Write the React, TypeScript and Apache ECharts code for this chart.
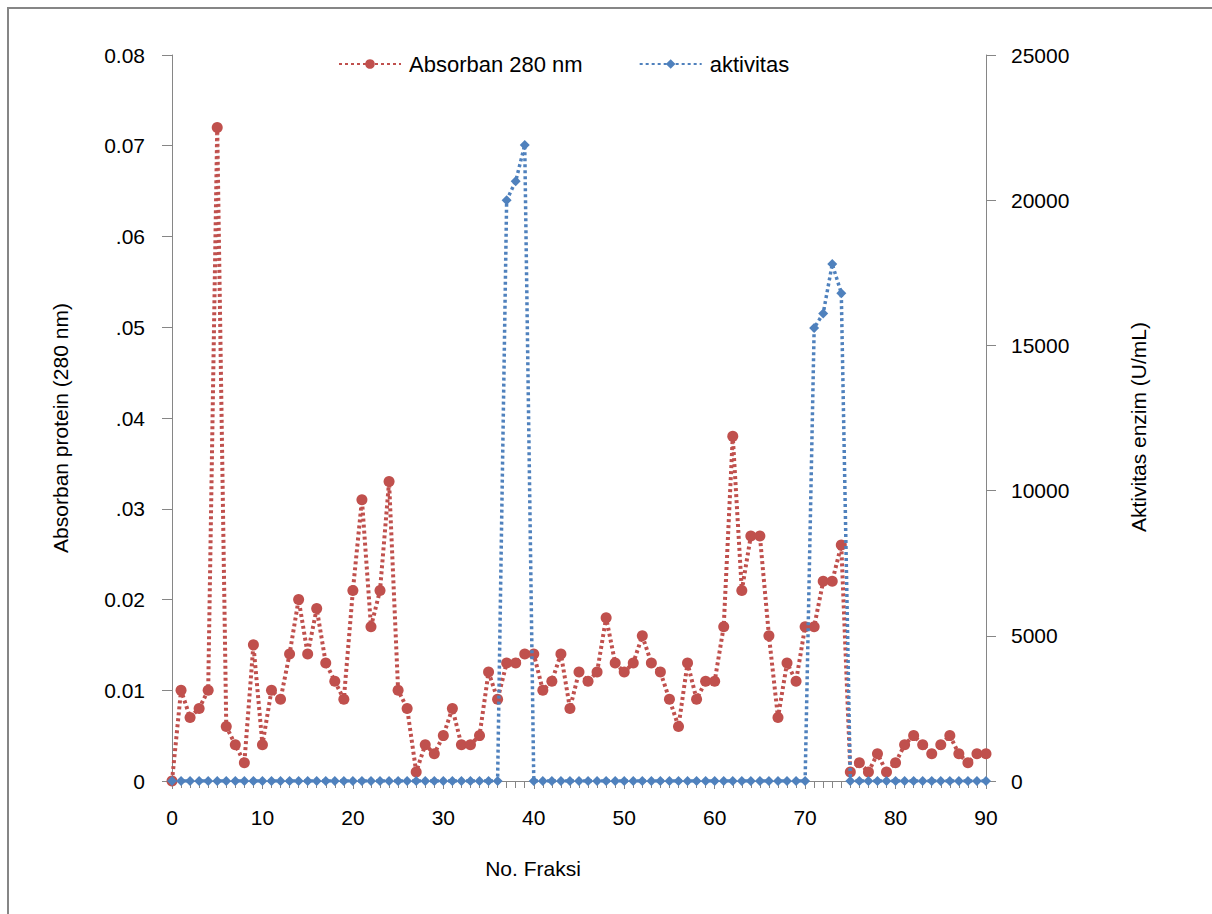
import React, { useEffect, useRef } from "react";
import * as echarts from "echarts";

const fractions = [
  0, 1, 2, 3, 4, 5, 6, 7, 8, 9,
  10, 11, 12, 13, 14, 15, 16, 17, 18, 19,
  20, 21, 22, 23, 24, 25, 26, 27, 28, 29,
  30, 31, 32, 33, 34, 35, 36, 37, 38, 39,
  40, 41, 42, 43, 44, 45, 46, 47, 48, 49,
  50, 51, 52, 53, 54, 55, 56, 57, 58, 59,
  60, 61, 62, 63, 64, 65, 66, 67, 68, 69,
  70, 71, 72, 73, 74, 75, 76, 77, 78, 79,
  80, 81, 82, 83, 84, 85, 86, 87, 88, 89,
  90,
];

const absorbance = [
  0, 0.010, 0.007, 0.008, 0.010, 0.072, 0.006, 0.004, 0.002, 0.015,
  0.004, 0.010, 0.009, 0.014, 0.020, 0.014, 0.019, 0.013, 0.011, 0.009,
  0.021, 0.031, 0.017, 0.021, 0.033, 0.010, 0.008, 0.001, 0.004, 0.003,
  0.005, 0.008, 0.004, 0.004, 0.005, 0.012, 0.009, 0.013, 0.013, 0.014,
  0.014, 0.010, 0.011, 0.014, 0.008, 0.012, 0.011, 0.012, 0.018, 0.013,
  0.012, 0.013, 0.016, 0.013, 0.012, 0.009, 0.006, 0.013, 0.009, 0.011,
  0.011, 0.017, 0.038, 0.021, 0.027, 0.027, 0.016, 0.007, 0.013, 0.011,
  0.017, 0.017, 0.022, 0.022, 0.026, 0.001, 0.002, 0.001, 0.003, 0.001,
  0.002, 0.004, 0.005, 0.004, 0.003, 0.004, 0.005, 0.003, 0.002, 0.003,
  0.003,
];

const activity = [
  0, 0, 0, 0, 0, 0, 0, 0, 0, 0,
  0, 0, 0, 0, 0, 0, 0, 0, 0, 0,
  0, 0, 0, 0, 0, 0, 0, 0, 0, 0,
  0, 0, 0, 0, 0, 0, 0, 20000, 20650, 21900,
  0, 0, 0, 0, 0, 0, 0, 0, 0, 0,
  0, 0, 0, 0, 0, 0, 0, 0, 0, 0,
  0, 0, 0, 0, 0, 0, 0, 0, 0, 0,
  0, 15600, 16100, 17800, 16800, 0, 0, 0, 0, 0,
  0, 0, 0, 0, 0, 0, 0, 0, 0, 0,
  0,
];

const leftTickLabels = ["0", "0.01", "0.02", ".03", ".04", ".05", ".06", "0.07", "0.08"];
const rightTickLabels = ["0", "5000", "10000", "15000", "20000", "25000"];

const seriesNames = ["Absorban 280 nm", "aktivitas"];
const xTitle = "No. Fraksi";
const yLeftTitle = "Absorban protein (280 nm)";
const yRightTitle = "Aktivitas enzim (U/mL)";

const RED = "#C0504D";
const BLUE = "#4F81BD";
const AXIS = "#868686";
const FONT = "'Liberation Sans', Arial, sans-serif";

export default function App() {
  const ref = useRef<HTMLDivElement>(null);

  useEffect(() => {
    document.body.style.margin = "0";
    if (!ref.current) return;
    const chart = echarts.init(ref.current, undefined, { renderer: "svg" });

    const axisCommon = {
      axisLine: { show: true, lineStyle: { color: AXIS, width: 1 } },
      axisTick: { show: true, inside: false, length: 10, lineStyle: { color: AXIS } },
      splitLine: { show: false },
    };

    chart.setOption({
      animation: false,
      backgroundColor: "#ffffff",
      grid: { left: 172, right: 1212 - 986, top: 55, bottom: 914 - 781 },
      legend: {
        data: seriesNames,
        top: 48,
        left: 333,
        itemWidth: 62,
        itemHeight: 12,
        itemGap: 56,
        textStyle: { fontSize: 22, color: "#000", fontFamily: FONT, padding: [0, 0, 0, 3] },
      },
      xAxis: {
        type: "value",
        min: 0,
        max: 90,
        interval: 10,
        ...axisCommon,
        axisTick: { show: true, inside: false, length: 8, lineStyle: { color: AXIS } },
        minorTick: { show: true, splitNumber: 10, length: 7, lineStyle: { color: AXIS, width: 1 } },
        axisLabel: { fontSize: 21, color: "#000", fontFamily: FONT, margin: 26 },
      },
      yAxis: [
        {
          type: "value",
          min: 0,
          max: 0.08,
          interval: 0.01,
          position: "left",
          ...axisCommon,
          axisLabel: {
            fontSize: 21,
            color: "#000",
            fontFamily: FONT,
            margin: 27,
            formatter: (v: number) => leftTickLabels[Math.round(v / 0.01)] ?? "",
          },
        },
        {
          type: "value",
          min: 0,
          max: 25000,
          interval: 5000,
          position: "right",
          ...axisCommon,
          axisLabel: {
            fontSize: 21,
            color: "#000",
            fontFamily: FONT,
            margin: 25,
            formatter: (v: number) => rightTickLabels[Math.round(v / 5000)] ?? "",
          },
        },
      ],
      series: [
        {
          name: seriesNames[0],
          type: "line",
          yAxisIndex: 0,
          data: fractions.map((f, i) => [f, absorbance[i]]),
          symbol: "circle",
          symbolSize: 11,
          itemStyle: { color: RED },
          lineStyle: { color: RED, width: 4, type: [3, 3] },
          z: 2,
        },
        {
          name: seriesNames[1],
          type: "line",
          yAxisIndex: 1,
          data: fractions.map((f, i) => [f, activity[i]]),
          symbol: "diamond",
          symbolSize: 10,
          itemStyle: { color: BLUE },
          lineStyle: { color: BLUE, width: 3.5, type: [3, 3] },
          z: 3,
        },
      ],
      graphic: [
        {
          type: "rect",
          silent: true,
          shape: { x: 8, y: 8, width: 1400, height: 1100 },
          style: { fill: "none", stroke: AXIS, lineWidth: 2 },
        },
        {
          type: "text",
          x: 533,
          y: 868,
          style: { text: xTitle, fill: "#000", font: `21px ${FONT}`, align: "center", verticalAlign: "middle" },
        },
        {
          type: "text",
          x: 60,
          y: 428,
          rotation: Math.PI / 2,
          style: { text: yLeftTitle, fill: "#000", font: `21px ${FONT}`, align: "center", verticalAlign: "middle" },
        },
        {
          type: "text",
          x: 1138,
          y: 427,
          rotation: Math.PI / 2,
          style: { text: yRightTitle, fill: "#000", font: `21px ${FONT}`, align: "center", verticalAlign: "middle" },
        },
      ],
    });

    return () => chart.dispose();
  }, []);

  return <div ref={ref} style={{ width: 1212, height: 914 }} />;
}
